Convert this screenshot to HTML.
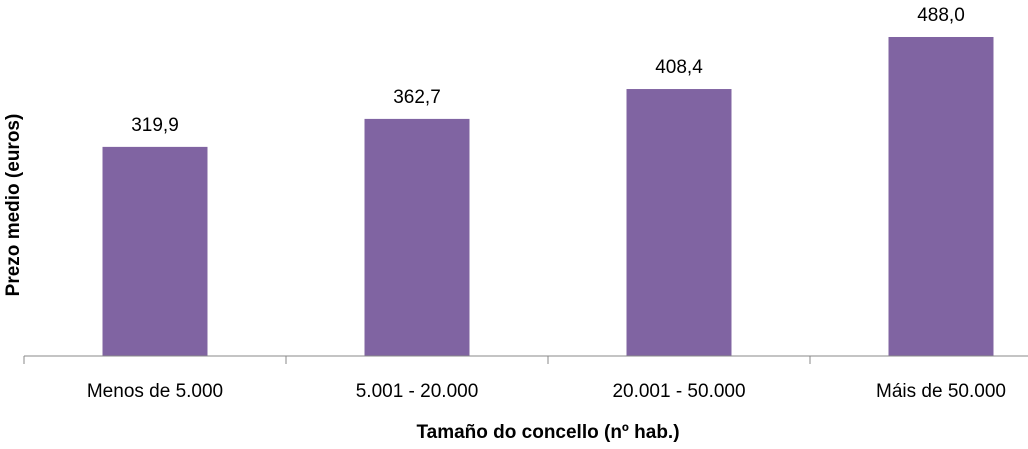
<!DOCTYPE html>
<html><head><meta charset="utf-8"><style>
body{margin:0;background:#fff;}
svg{display:block;font-family:"Liberation Sans",sans-serif;}
</style></head><body>
<svg id="chart" width="1028" height="449">
<g id="bars"></g>
<line x1="24" y1="356" x2="1028" y2="356" stroke="#888" stroke-width="1"/>
<g id="ticks"></g>
<text x="548" y="438" text-anchor="middle" font-size="19" font-weight="bold">Tamaño do concello (nº hab.)</text>
<text transform="translate(19,205) rotate(-90)" text-anchor="middle" font-size="19" font-weight="bold">Prezo medio (euros)</text>
</svg>
<script>
const categories=["Menos de 5.000","5.001 - 20.000","20.001 - 50.000","Máis de 50.000"];
const values=[319.9,362.7,408.4,488.0];
const labels=["319,9","362,7","408,4","488,0"];
const ns="http://www.w3.org/2000/svg";
const x0=24,bw=262,base=356,k=0.6537,barW=105;
const xs=i=>x0+bw*i+bw/2;
const ys=v=>base-v*k;
const gb=document.getElementById('bars'),gt=document.getElementById('ticks');
categories.forEach((c,i)=>{
 const r=document.createElementNS(ns,'rect');
 r.setAttribute('x',xs(i)-barW/2);r.setAttribute('y',ys(values[i]));
 r.setAttribute('width',barW);r.setAttribute('height',base-ys(values[i]));
 r.setAttribute('fill','#8064A2');
 
 
 gb.appendChild(r);
 const t=document.createElementNS(ns,'text');
 t.setAttribute('x',xs(i));t.setAttribute('y',ys(values[i])-16);
 t.setAttribute('text-anchor','middle');t.setAttribute('font-size','19');
 t.textContent=labels[i];
 
 
 gb.appendChild(t);
 const l=document.createElementNS(ns,'text');
 l.setAttribute('x',xs(i));l.setAttribute('y',397);
 l.setAttribute('text-anchor','middle');l.setAttribute('font-size','19');
 l.textContent=c;
 
 
 gt.appendChild(l);
 const tk=document.createElementNS(ns,'line');
 tk.setAttribute('x1',x0+bw*i);tk.setAttribute('x2',x0+bw*i);
 tk.setAttribute('y1',base);tk.setAttribute('y2',base+8);
 tk.setAttribute('stroke','#888');
 
 
 gt.appendChild(tk);
});
</script>
</body></html>
